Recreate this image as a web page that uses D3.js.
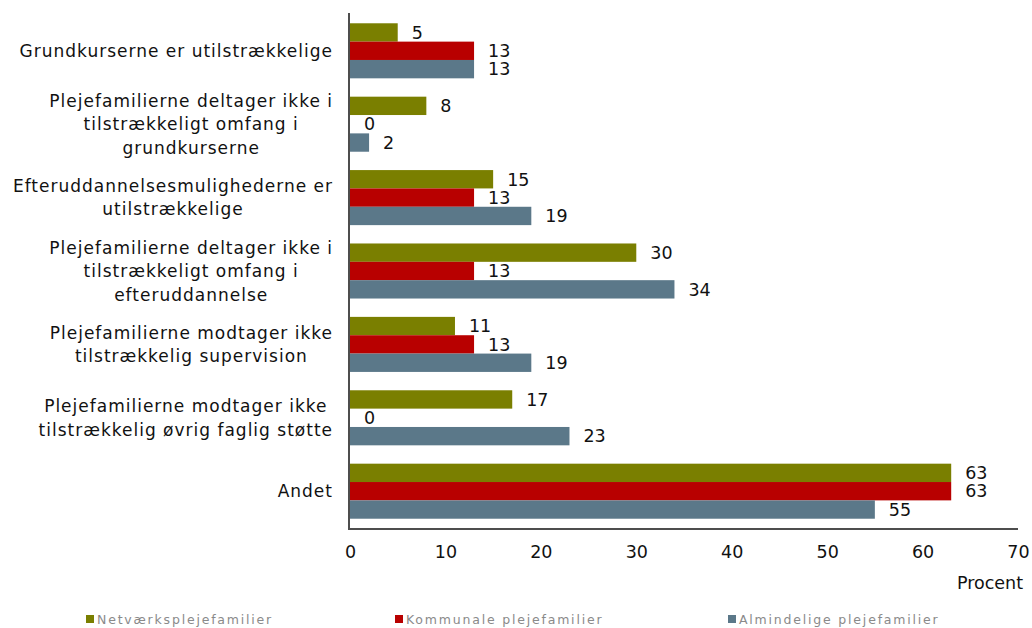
<!DOCTYPE html>
<html>
<head>
<meta charset="utf-8">
<script src="https://cdn.jsdelivr.net/npm/d3@7"></script>
<style>
  body { margin: 0; background: #fff; }
  svg { display: block; }
</style>
</head>
<body>
<script>
const width = 1032;
const height = 628;

// data
const categories = [
    ["Grundkurserne er utilstrækkelige"],
    ["Plejefamilierne deltager ikke i", "tilstrækkeligt omfang i", "grundkurserne"],
    ["Efteruddannelsesmulighederne er", "utilstrækkelige"],
    ["Plejefamilierne deltager ikke i", "tilstrækkeligt omfang i", "efteruddannelse"],
    ["Plejefamilierne modtager ikke", "tilstrækkelig supervision"],
    ["Plejefamilierne modtager ikke", "tilstrækkelig øvrig faglig støtte"],
    ["Andet"]
];
const seriesNames = ["Netværksplejefamilier", "Kommunale plejefamilier", "Almindelige plejefamilier"];
const netvaerk = [5, 8, 15, 30, 11, 17, 63];
const kommunale = [13, 0, 13, 13, 13, 0, 63];
const almindelige = [13, 2, 19, 34, 19, 23, 55];
const xTicks = [0, 10, 20, 30, 40, 50, 60, 70];

const seriesValues = [netvaerk, kommunale, almindelige];
const colors = ["#7a7f00", "#b80000", "#5b7889"];

let svg = d3.select("body")
    .append("svg")
    .attr("width", width)
    .attr("height", height)
    .style("font-family", "'DejaVu Sans', Verdana, sans-serif");

let x = d3.scaleLinear()
    .domain([0, 70])
    .range([350, 1018]);

let y = d3.scaleBand()
    .domain(d3.range(categories.length))
    .range([13, 529])
    .paddingInner(0.25)
    .paddingOuter(0.14);

let y1 = d3.scaleBand()
    .domain(d3.range(seriesNames.length))
    .range([0, y.bandwidth()]);

// bars
let groups = svg.append("g")
    .selectAll("g")
    .data(categories)
    .enter()
    .append("g")
    .attr("transform", (d, i) => "translate(0," + y(i) + ")");

groups.selectAll("rect")
    .data((d, i) => seriesValues.map((s, k) => ({k: k, v: s[i]})))
    .enter()
    .append("rect")
    .attr("x", x(0))
    .attr("y", (d) => y1(d.k))
    .attr("width", (d) => x(d.v) - x(0))
    .attr("height", y1.bandwidth())
    .attr("fill", (d) => colors[d.k]);

groups.selectAll("text")
    .data((d, i) => seriesValues.map((s, k) => ({k: k, v: s[i]})))
    .enter()
    .append("text")
    .attr("x", (d) => x(d.v) + 14)
    .attr("y", (d) => y1(d.k) + y1.bandwidth() / 2)
    .attr("dy", "0.36em")
    .attr("font-size", 17.5)
    .attr("fill", "#111")
    .text((d) => d.v);

// category labels, lines centred inside a right aligned block
let lineH = 23.5;
let labels = svg.append("g")
    .attr("font-size", 17)
    .attr("letter-spacing", 1)
    .attr("fill", "#111");

categories.forEach((lines, i) => {
    let g = labels.append("g");
    let cy = y(i) + y.bandwidth() / 2;
    let t = g.append("text").attr("text-anchor", "middle");
    lines.forEach((line, j) => {
        t.append("tspan")
            .attr("x", 0)
            .attr("y", cy + (j - (lines.length - 1) / 2) * lineH)
            .attr("dy", "0.36em")
            .text(line);
    });
    let w = t.node().getBBox().width;
    g.attr("transform", "translate(" + (333 - w / 2) + ",0)");
});

// axes
svg.append("line")
    .attr("x1", x(0) - 1).attr("x2", x(0) - 1)
    .attr("y1", 13).attr("y2", 530)
    .attr("stroke", "#4d4d4d")
    .attr("stroke-width", 2);

svg.append("line")
    .attr("x1", x(0) - 2).attr("x2", x(70))
    .attr("y1", 529).attr("y2", 529)
    .attr("stroke", "#4d4d4d")
    .attr("stroke-width", 2);

let xAxis = d3.axisBottom(x)
    .tickValues(xTicks)
    .tickSize(0)
    .tickPadding(0);

svg.append("g")
    .attr("transform", "translate(0,546)")
    .call(xAxis)
    .call((g) => g.select(".domain").remove())
    .selectAll("text")
    .attr("font-family", "'DejaVu Sans', Verdana, sans-serif")
    .attr("font-size", 17.5)
    .attr("fill", "#111");

svg.append("text")
    .attr("x", 1023)
    .attr("y", 589)
    .attr("text-anchor", "end")
    .attr("font-size", 17.5)
    .attr("fill", "#111")
    .text("Procent");

// legend
const legendX = [86, 395, 728];
let legend = svg.append("g")
    .selectAll("g")
    .data(seriesNames)
    .enter()
    .append("g")
    .attr("transform", (d, i) => "translate(" + legendX[i] + ",615)");

legend.append("rect")
    .attr("width", 8)
    .attr("height", 8)
    .attr("fill", (d, i) => colors[i]);

legend.append("text")
    .attr("x", 11)
    .attr("y", 9)
    .attr("font-size", 12.5)
    .attr("letter-spacing", 1.8)
    .attr("fill", "#8a8a8a")
    .text((d) => d);
</script>
</body>
</html>
